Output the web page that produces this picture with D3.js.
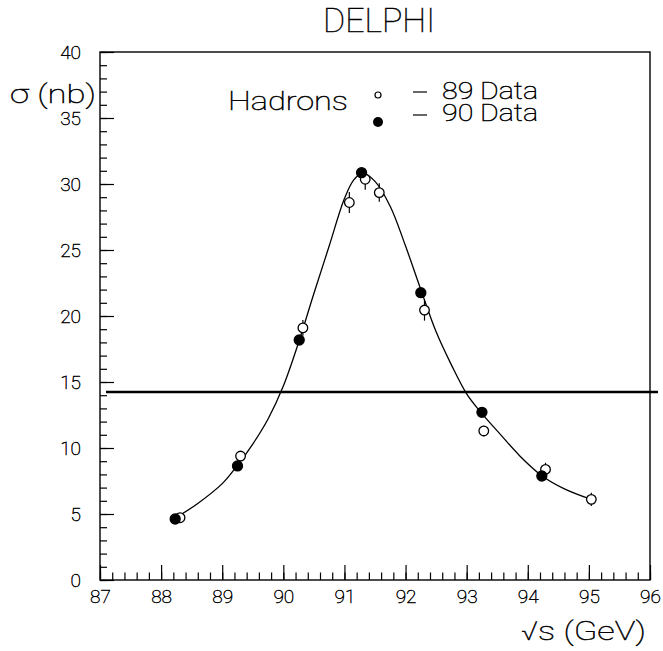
<!DOCTYPE html>
<html>
<head>
<meta charset="utf-8">
<script src="https://cdn.jsdelivr.net/npm/d3@7"></script>
<style>
  body { margin: 0; background: #fff; }
  svg text { font-family: Roboto, "DejaVu Sans", sans-serif; font-weight: 100; fill: #000;
             stroke: #000; stroke-width: 0.45px; }
</style>
</head>
<body>
<svg id="chart" width="663" height="651"></svg>
<script>
// 1989 scan (open circles)
var e89 = [88.31, 89.30, 90.32, 91.08, 91.34, 91.57, 92.31, 93.28, 94.29, 95.04];
var s89 = [4.72, 9.39, 19.1, 28.6, 30.36, 29.35, 20.45, 11.29, 8.38, 6.11];
var err89 = [0.2, 0.3, 0.6, 0.8, 0.8, 0.7, 0.8, 0.4, 0.5, 0.5];

// 1990 scan (filled circles)
var e90 = [88.23, 89.25, 90.26, 91.28, 92.25, 93.25, 94.23];
var s90 = [4.62, 8.64, 18.18, 30.86, 21.77, 12.7, 7.88];
var err90 = [0.1, 0.15, 0.25, 0.3, 0.25, 0.2, 0.15];

// fitted line shape
var fitE = [88.2, 88.6, 89.0, 89.25, 89.5, 89.75, 90.0, 90.25, 90.5, 90.75, 91.0, 91.15, 91.3, 91.5, 91.75, 92.0, 92.25, 92.5, 92.75, 93.0, 93.25, 93.5, 93.87, 94.23, 94.6, 95.04];
var fitS = [4.6, 5.8, 7.3, 8.7, 10.3, 12.2, 14.7, 18.0, 21.7, 25.3, 28.9, 30.3, 30.85, 30.2, 28.3, 25.3, 22.0, 18.8, 16.3, 14.1, 12.6, 11.3, 9.4, 7.9, 6.9, 6.1];

var hline = 14.24;

var xTicks = [87, 88, 89, 90, 91, 92, 93, 94, 95, 96];
var yTicks = [0, 5, 10, 15, 20, 25, 30, 35, 40];

(function draw() {
    var svg = d3.select('#chart');

    var pLeft = 100, pRight = 650, pTop = 52, pBottom = 580;

    var x = d3.scaleLinear().domain([87, 96]).range([pLeft, pRight]);
    var y = d3.scaleLinear().domain([0, 40]).range([pBottom, pTop]);

    svg.append('rect')
        .attr('width', 663).attr('height', 651)
        .attr('fill', '#fff');

    // minor ticks first, majors on top
    var xMinor = d3.range(87, 96.001, 0.2);
    var yMinor = d3.range(0, 40.001, 1);

    svg.append('g')
        .attr('transform', 'translate(0,' + pBottom + ')')
        .call(d3.axisBottom(x).tickValues(xMinor).tickSize(-7.5).tickSizeOuter(0).tickFormat(''))
        .call(function(g) { g.select('.domain').remove(); });

    svg.append('g')
        .attr('transform', 'translate(' + pLeft + ',0)')
        .call(d3.axisLeft(y).tickValues(yMinor).tickSize(-7).tickSizeOuter(0).tickFormat(''))
        .call(function(g) { g.select('.domain').remove(); });

    var xAxis = svg.append('g')
        .attr('transform', 'translate(0,' + pBottom + ')')
        .call(d3.axisBottom(x).tickValues(xTicks).tickSize(-15).tickSizeOuter(0)
            .tickPadding(10).tickFormat(d3.format('d')));

    var yAxis = svg.append('g')
        .attr('transform', 'translate(' + pLeft + ',0)')
        .call(d3.axisLeft(y).tickValues(yTicks).tickSize(-14).tickSizeOuter(0)
            .tickPadding(19).tickFormat(d3.format('d')));

    [xAxis, yAxis].forEach(function(a) {
        a.selectAll('.domain').remove();
        a.selectAll('text')
            .attr('font-family', null)
            .attr('font-size', null)
            .style('font-size', '19px')
            .attr('fill', '#000');
    });
    svg.selectAll('.tick line').attr('stroke', '#000').attr('stroke-width', 1.2);

    // frame
    svg.append('rect')
        .attr('x', pLeft).attr('y', pTop)
        .attr('width', pRight - pLeft).attr('height', pBottom - pTop)
        .attr('fill', 'none')
        .attr('stroke', '#000')
        .attr('stroke-width', 1.4);

    // horizontal line
    svg.append('line')
        .attr('x1', pLeft + 6).attr('x2', 658)
        .attr('y1', y(hline)).attr('y2', y(hline))
        .attr('stroke', '#000')
        .attr('stroke-width', 2.6);

    // fit curve
    var fit = fitE.map(function(e, i) { return [e, fitS[i]]; });
    svg.append('path')
        .datum(fit)
        .attr('fill', 'none')
        .attr('stroke', '#000')
        .attr('stroke-width', 1.3)
        .attr('d', d3.line()
            .x(function(d) { return x(d[0]); })
            .y(function(d) { return y(d[1]); })
            .curve(d3.curveCatmullRom.alpha(0.5)));

    function drawSeries(es, ss, errs, filled) {
        var g = svg.append('g');
        var pts = es.map(function(e, i) { return {e: e, s: ss[i], err: errs[i]}; });

        g.selectAll('line.err')
            .data(pts)
            .enter().append('line')
            .attr('class', 'err')
            .attr('x1', function(d) { return x(d.e); })
            .attr('x2', function(d) { return x(d.e); })
            .attr('y1', function(d) { return y(d.s - d.err); })
            .attr('y2', function(d) { return y(d.s + d.err); })
            .attr('stroke', '#000')
            .attr('stroke-width', 1.2);

        g.selectAll('circle')
            .data(pts)
            .enter().append('circle')
            .attr('cx', function(d) { return x(d.e); })
            .attr('cy', function(d) { return y(d.s); })
            .attr('r', filled ? 5 : 4.8)
            .attr('fill', filled ? '#000' : '#fff')
            .attr('stroke', '#000')
            .attr('stroke-width', 1.3);
    }

    drawSeries(e89, s89, err89, false);
    drawSeries(e90, s90, err90, true);

    // title and labels
    function label(txt, px, py, size, len) {
        var t = svg.append('text')
            .attr('x', px).attr('y', py)
            .style('font-size', size + 'px')
            .text(txt);
        if(len) t.attr('textLength', len).attr('lengthAdjust', 'spacingAndGlyphs');
        return t;
    }

    label('DELPHI', 323, 32, 33, 112);
    label('\u03c3 (nb)', 10, 103, 26, 86);
    label('\u221as (GeV)', 521, 640, 26, 125);

    // legend
    label('Hadrons', 228, 110, 25, 120);
    svg.append('circle').attr('cx', 378).attr('cy', 95).attr('r', 3)
        .attr('fill', '#fff').attr('stroke', '#000').attr('stroke-width', 1.2);
    svg.append('circle').attr('cx', 378).attr('cy', 122).attr('r', 5)
        .attr('fill', '#000');
    [92, 115].forEach(function(ly) {
        svg.append('line').attr('x1', 413).attr('x2', 427).attr('y1', ly).attr('y2', ly)
            .attr('stroke', '#000').attr('stroke-width', 1.2);
    });
    label('89 Data', 442, 99, 23, 96);
    label('90 Data', 442, 121, 23, 96);
})();
</script>
</body>
</html>
